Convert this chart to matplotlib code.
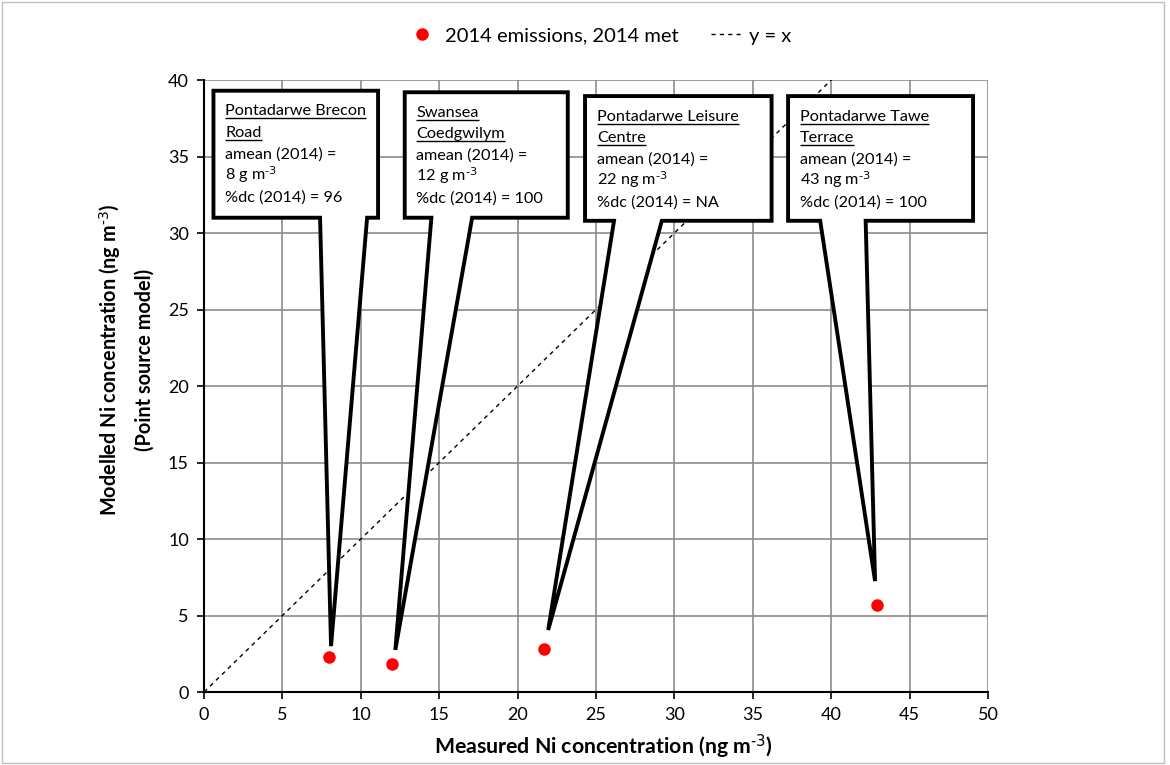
import matplotlib
matplotlib.use("Agg")
import matplotlib.pyplot as plt
from matplotlib.patches import Polygon, Rectangle
from matplotlib.lines import Line2D

plt.rcParams['font.family'] = ['Lato', 'DejaVu Sans']
plt.rcParams['mathtext.default'] = 'regular'

# Data
measured = [8.0, 12.0, 21.7, 42.9]
modelled = [2.3, 1.85, 2.8, 5.7]
site_titles = [["Pontadarwe Brecon", "Road"],
               ["Swansea", "Coedgwilym"],
               ["Pontadarwe Leisure", "Centre"],
               ["Pontadarwe Tawe", "Terrace"]]
site_amean = [r"8 g m$^{\text{-3}}$", r"12 g m$^{\text{-3}}$", r"22 ng m$^{\text{-3}}$", r"43 ng m$^{\text{-3}}$"]
site_dc = ["96", "100", "NA", "100"]
x_ticks = list(range(0, 51, 5))
y_ticks = list(range(0, 41, 5))

# callout geometry (data coords): box left, right, top, bottom, pointer base left/right, tip
boxes = [
    (0.6, 11.1, 39.3, 31.0, 7.4, 10.4, (8.1, 3.0)),
    (12.8, 23.2, 39.2, 31.0, 14.5, 17.1, (12.2, 2.75)),
    (24.3, 36.2, 38.95, 30.8, 26.15, 29.2, (21.95, 4.05)),
    (37.25, 49.05, 38.95, 30.8, 39.3, 42.2, (42.8, 7.25)),
]

fig = plt.figure(figsize=(11.7, 7.65), dpi=100)
ax = fig.add_axes([0.1744, 0.0954, 0.8444 - 0.1744, 0.8954 - 0.0954])

# border
fig.patches.append(Rectangle((0.002, 0.003), 0.993, 0.994, transform=fig.transFigure,
                             fill=False, edgecolor='#bfbfbf', lw=1))

ax.set_xlim(0, 50)
ax.set_ylim(0, 40)
ax.set_xticks(x_ticks)
ax.set_yticks(y_ticks)
ax.grid(True, color='#8c8c8c', lw=1.2, zorder=0)
ax.set_axisbelow(True)
for s in ['top', 'right']:
    ax.spines[s].set_visible(False)
for s in ['left', 'bottom']:
    ax.spines[s].set_linewidth(1.5)
ax.tick_params(direction='out', length=5, width=1.2, labelsize=13, colors='black')
ax.tick_params(axis='x', pad=6)
ax.tick_params(axis='y', pad=6)

fig.text(603 / 1170, 1 - 747 / 765, r"Measured Ni concentration (ng m$^{\text{-3}}$)", fontsize=15.3,
         fontweight='bold', ha='center', va='center')
fig.text(126 / 1170, 1 - 360 / 765, "Modelled Ni concentration (ng m$^{\\text{-3}}$)\n(Point source model)",
         fontsize=14.3, fontweight='bold', ha='center', va='center', rotation=90, linespacing=1.75,
         multialignment='center')

ax.plot([0, 50], [0, 50], ls=(0, (3, 3)), color='black', lw=1, zorder=2, clip_on=True)
ax.plot(measured, modelled, 'o', color='#ff0000', ms=9, zorder=3, mec='none')

texts_to_underline = []
for i, (l, r, t, b, pl, pr, tip) in enumerate(boxes):
    poly = Polygon([(l, t), (r, t), (r, b), (pr, b), tip, (pl, b), (l, b)], closed=True,
                   facecolor='white', edgecolor='black', lw=2.8, joinstyle='miter', zorder=4)
    ax.add_patch(poly)
    lines = site_titles[i] + ["amean (2014) =", site_amean[i], "%dc (2014) = " + site_dc[i]]
    y0 = t - 1.6
    for k, ln in enumerate(lines):
        tx = ax.text(l + 0.75, y0 - k * 1.41, ln, fontsize=11.7, va='baseline', ha='left', zorder=5)
        if k < 2:
            texts_to_underline.append(tx)

# legend
h1 = Line2D([], [], marker='o', color='#ff0000', ls='none', ms=9, mec='none')
h2 = Line2D([], [], color='black', ls=(0, (3, 3)), lw=1)
fig.legend([h1, h2], ["2014 emissions, 2014 met", "y = x"], loc='center', bbox_to_anchor=(0.512, 0.953),
           ncol=2, frameon=False, fontsize=14.5, handlelength=1.5, columnspacing=1.6, handletextpad=0.4)

fig.canvas.draw()
renderer = fig.canvas.get_renderer()
inv = ax.transData.inverted()
for tx in texts_to_underline:
    bb = tx.get_window_extent(renderer)
    x0, _ = inv.transform((bb.x0, bb.y0))
    x1, _ = inv.transform((bb.x1, bb.y0))
    _, yb = tx.get_position()
    disp = ax.transData.transform((0, yb))
    _, yu = inv.transform((0, disp[1] - 3))
    ax.plot([x0, x1], [yu, yu], color='black', lw=1, zorder=5, solid_capstyle='butt')

fig.savefig("out.png", dpi=100)
